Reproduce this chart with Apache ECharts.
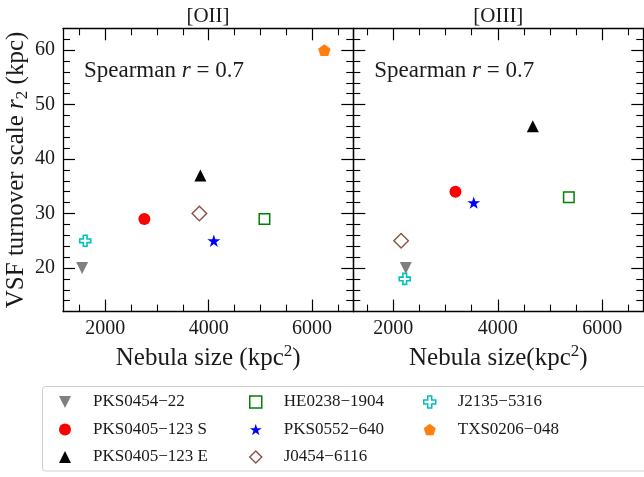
<!DOCTYPE html>
<html>
<head>
<meta charset="utf-8">
<script src="https://cdn.jsdelivr.net/npm/echarts@6/dist/echarts.min.js"></script>
<style>
  html, body { margin: 0; padding: 0; background: #fff; }
  #chart { width: 644px; height: 477px; }
</style>
</head>
<body>
<div id="chart"></div>
<script>
// Sources, in legend order
const sources = ['PKS0454−22', 'PKS0405−123 S', 'PKS0405−123 E', 'HE0238−1904',
                 'PKS0552−640', 'J0454−6116', 'J2135−5316', 'TXS0206−048'];

// [OII] panel: nebula size (kpc^2) and VSF turnover scale r2 (kpc)
const oiiSize  = [1550, 2755, 3840, 5080, 4100, 3820, 1610, 6240];
const oiiScale = [20, 29, 37, 29, 25, 30, 25, 60];

// [OIII] panel (no TXS0206−048 measurement)
const oiiiSize  = [2240, 3190, 4670, 5360, 3540, 2150, 2220, null];
const oiiiScale = [20, 34, 46, 33, 32, 25, 18, null];

const panelTitles = ['[OII]', '[OIII]'];
const spearmanR = ['0.7', '0.7'];

// Axis extents and tick positions
const xRangeOII = [1180, 6800];
const xRangeOIII = [1235, 6785];
const yRange = [12, 64];
const xMajorTicks = [2000, 4000, 6000];
const xMinorTicks = [1500, 2500, 3000, 3500, 4500, 5000, 5500, 6500];
const yMajorTicks = [20, 30, 40, 50, 60];
const yMinorTicks = [14, 16, 18, 22, 24, 26, 28, 32, 34, 36, 38, 42, 44, 46, 48, 52, 54, 56, 58, 62];

// Legend layout: three columns of source indices
const legendColumns = [[0, 1, 2], [3, 4, 5], [6, 7]];

const FONT = 'Liberation Serif';
const INK = '#1a1a1a';

const DOWN_TRI = 'path://M0,0L100,0L50,100Z';
const UP_TRI = 'path://M50,0L100,100L0,100Z';
const SQUARE = 'path://M0,0H100V100H0Z';
const DIAMOND = 'path://M50,0L100,50L50,100L0,50Z';
const STAR = 'path://M100,0L122.45,69.1L195.1,69.1L136.3,111.8L158.8,180.9L100,138.2L41.2,180.9L63.7,111.8L4.9,69.1L77.55,69.1Z';
const PENTAGON = 'path://M100,0L195.1,69.1L158.8,180.9L41.2,180.9L4.9,69.1Z';
const PLUS = 'path://M20,0H40V20H60V40H40V60H20V40H0V20H20Z';

// Marker style per source
const markers = [
  { symbol: DOWN_TRI, size: 12, style: { color: '#808080' } },
  { symbol: 'circle', size: 12, style: { color: '#ff0000' } },
  { symbol: UP_TRI, size: 12, style: { color: '#000000' } },
  { symbol: SQUARE, size: 10.5, style: { color: '#ffffff', borderColor: '#008000', borderWidth: 1.5 } },
  { symbol: STAR, size: 13, style: { color: '#0000ff' } },
  { symbol: DIAMOND, size: 14.5, style: { color: '#ffffff', borderColor: '#8c564b', borderWidth: 1.5 } },
  { symbol: PLUS, size: 11, style: { color: '#ffffff', borderColor: '#00bfbf', borderWidth: 1.6 } },
  { symbol: PENTAGON, size: 12.5, style: { color: '#ff7f0e' } }
];

// Builds a major + minor axis on each side of a panel (ticks pointing inward)
function makeAxes(dim, gridIndex, range, positions, labelled, nameOpts) {
  const major = dim === 'x' ? xMajorTicks : yMajorTicks;
  const minor = dim === 'x' ? xMinorTicks : yMinorTicks;
  const out = [];
  positions.forEach((pos, k) => {
    const main = {
      type: 'value', gridIndex, position: pos, min: range[0], max: range[1],
      axisLine: { show: true, onZero: false, lineStyle: { color: '#000', width: 1.3 } },
      axisTick: { show: true, inside: true, length: 12, customValues: major,
                  lineStyle: { color: '#000', width: 1.2 } },
      axisLabel: { show: labelled && k === 0, customValues: major, margin: dim === 'x' ? 7 : 8,
                   formatter: (v) => String(v),
                   fontFamily: FONT, fontSize: 20, color: INK },
      splitLine: { show: false }, minorTick: { show: false }, minorSplitLine: { show: false }
    };
    if (k === 0 && nameOpts) Object.assign(main, nameOpts);
    out.push(main);
    out.push({
      type: 'value', gridIndex, position: pos, min: range[0], max: range[1],
      axisLine: { show: false, onZero: false },
      axisTick: { show: true, inside: true, length: 7, customValues: minor,
                  lineStyle: { color: '#000', width: 1.1 } },
      axisLabel: { show: false },
      splitLine: { show: false }
    });
  });
  return out;
}

const xName = (text) => ({
  name: text, nameLocation: 'middle', nameGap: 23,
  nameTextStyle: { fontFamily: FONT, fontSize: 25, lineHeight: 30, color: INK,
                   rich: { sup: { fontFamily: FONT, fontSize: 17, lineHeight: 17,
                                  verticalAlign: 'top', color: INK } } }
});

const yName = {
  name: 'VSF turnover scale {i|r}{sub|2} (kpc)', nameLocation: 'middle', nameGap: 31,
  nameTextStyle: { fontFamily: FONT, fontSize: 25, lineHeight: 30, color: INK,
                   rich: {
                     i: { fontFamily: FONT, fontSize: 25, lineHeight: 30, fontStyle: 'italic', color: INK },
                     sub: { fontFamily: FONT, fontSize: 17, lineHeight: 17, verticalAlign: 'bottom', color: INK }
                   } }
};

const xAxis = [].concat(
  makeAxes('x', 0, xRangeOII, ['bottom', 'top'], true, xName('Nebula size (kpc{sup|2})')),
  makeAxes('x', 1, xRangeOIII, ['bottom', 'top'], true, xName('Nebula size(kpc{sup|2})'))
);
const yAxis = [].concat(
  makeAxes('y', 0, yRange, ['left', 'right'], true, yName),
  makeAxes('y', 1, yRange, ['left', 'right'], false, null)
);

// One scatter series per source and panel
const series = [];
sources.forEach((name, i) => {
  const m = markers[i];
  const base = {
    type: 'scatter', name, symbol: m.symbol, symbolSize: m.size, symbolKeepAspect: true,
    itemStyle: Object.assign({ opacity: 1 }, m.style),
    emphasis: { disabled: true }, z: 3
  };
  series.push(Object.assign({}, base, { xAxisIndex: 0, yAxisIndex: 0,
    data: [[oiiSize[i], oiiScale[i]]] }));
  if (oiiiSize[i] !== null) {
    series.push(Object.assign({}, base, { xAxisIndex: 4, yAxisIndex: 4,
      data: [[oiiiSize[i], oiiiScale[i]]] }));
  }
});

// Legend columns: icon centres at 65, 255, 429 px
const legendLeft = [59, 249, 423];
const legend = legendColumns.map((col, c) => ({
  data: col.map(i => {
    const s = markers[i].style;
    const item = { name: sources[i] };
    if (s.borderColor) item.itemStyle = { color: '#ffffff', borderColor: s.borderColor, borderWidth: 1.5 };
    return item;
  }),
  orient: 'vertical', left: legendLeft[c], top: 393.5, padding: 0,
  itemWidth: 12, itemHeight: 12, itemGap: 10.5, selectedMode: false,
  symbolKeepAspect: true,
  textStyle: { fontFamily: FONT, fontSize: 17, lineHeight: 17, color: INK, padding: [0, 0, 0, 17] }
}));

const panelCenters = [208, 498.3];
const spearmanLeft = [84, 374.3];
const graphic = [
  { type: 'rect', silent: true, shape: { x: 42.5, y: 386.5, width: 640, height: 84.5, r: 3 },
    style: { fill: 'none', stroke: '#cfcfcf', lineWidth: 1 } }
];
panelTitles.forEach((t, p) => {
  graphic.push({ type: 'text', silent: true, x: panelCenters[p], y: 16.5,
    style: { text: t, align: 'center', verticalAlign: 'middle',
             font: '21px "' + FONT + '"', fill: INK } });
  graphic.push({ type: 'text', silent: true, x: spearmanLeft[p], y: 71,
    style: { text: 'Spearman {i|r} = ' + spearmanR[p], align: 'left', verticalAlign: 'middle',
             font: '23px "' + FONT + '"', fill: INK,
             rich: { i: { font: 'italic 23px "' + FONT + '"', fill: INK } } } });
});

const chart = echarts.init(document.getElementById('chart'), null, { renderer: 'canvas' });
chart.setOption({
  animation: false,
  backgroundColor: '#ffffff',
  grid: [
    { left: 63, top: 28.3, width: 290.3, height: 283.3, containLabel: false, outerBoundsMode: 'none' },
    { left: 353.3, top: 28.3, width: 290, height: 283.3, containLabel: false, outerBoundsMode: 'none' }
  ],
  xAxis, yAxis, series, legend, graphic,
  tooltip: { show: false }
});
</script>
</body>
</html>
